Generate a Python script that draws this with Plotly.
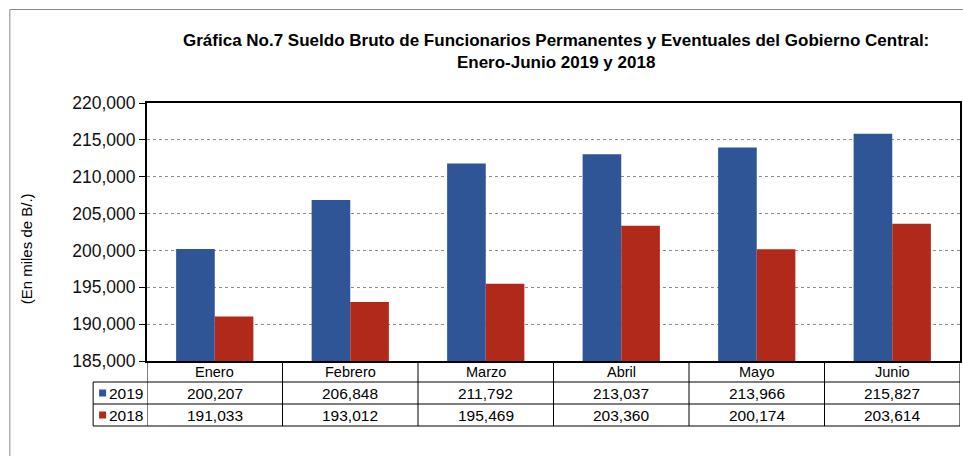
import plotly.graph_objects as go

months = ["Enero", "Febrero", "Marzo", "Abril", "Mayo", "Junio"]
y2019 = [200207, 206848, 211792, 213037, 213966, 215827]
y2018 = [191033, 193012, 195469, 203360, 200174, 203614]
series_names = ["2019", "2018"]
colors = ["#2F5597", "#B0291A"]
y_ticks = [185000, 190000, 195000, 200000, 205000, 210000, 215000, 220000]
title_lines = ["Gráfica No.7 Sueldo Bruto de Funcionarios Permanentes y Eventuales del Gobierno Central:",
               "Enero-Junio 2019 y 2018"]

W, H = 963, 456
L, R, T, B = 147, 962, 103, 361  # plot area in pixels
FONT = "Liberation Sans, Arial, sans-serif"

def px(x):
    return (x - L) / (R - L)

def py(y):
    return (B - y) / (B - T)

xs = list(range(len(months)))
fig = go.Figure()
fig.add_trace(go.Bar(x=xs, y=y2019, name=series_names[0], marker_color=colors[0],
                     marker_line_width=0))
fig.add_trace(go.Bar(x=xs, y=y2018, name=series_names[1], marker_color=colors[1],
                     marker_line_width=0))

shapes = []
line = dict(color="black", width=1)
for yy in [382, 404, 426]:
    shapes.append(dict(type="line", xref="paper", yref="paper", x0=px(93), x1=1,
                       y0=py(yy), y1=py(yy), line=line))
for i in range(len(months) + 1):
    shapes.append(dict(type="line", xref="x", yref="paper", x0=i - 0.5, x1=i - 0.5,
                       y0=py(361), y1=py(426), line=line))
shapes.append(dict(type="line", xref="paper", yref="paper", x0=px(93), x1=px(93),
                   y0=py(382), y1=py(426), line=line))
for k, yc in enumerate([393, 415]):
    shapes.append(dict(type="rect", xref="paper", yref="paper",
                       x0=px(99), x1=px(106), y0=py(yc - 3.5), y1=py(yc + 3.5),
                       fillcolor=colors[k], line=dict(width=0)))
shapes.append(dict(type="line", xref="paper", yref="paper", x0=px(9.5), x1=px(9.5),
                   y0=py(9.5), y1=py(470), line=dict(color="#888888", width=1)))
shapes.append(dict(type="line", xref="paper", yref="paper", x0=px(9.5), x1=px(975),
                   y0=py(9.5), y1=py(9.5), line=dict(color="#888888", width=1)))

ann = []
mf = dict(family=FONT, size=14.5, color="black")
nf = dict(family=FONT, size=15.5, color="black")
for i, m in enumerate(months):
    ann.append(dict(x=i, xref="x", y=py(372), yref="paper", text=m, showarrow=False,
                    font=mf, xanchor="center", yanchor="middle"))
    ann.append(dict(x=i, xref="x", y=py(393), yref="paper", text=f"{y2019[i]:,}",
                    showarrow=False, font=nf, xanchor="center", yanchor="middle"))
    ann.append(dict(x=i, xref="x", y=py(415), yref="paper", text=f"{y2018[i]:,}",
                    showarrow=False, font=nf, xanchor="center", yanchor="middle"))
for k, yc in enumerate([393, 415]):
    ann.append(dict(x=px(107), xref="paper", y=py(yc), yref="paper", text=series_names[k],
                    showarrow=False, font=nf, xanchor="left", yanchor="middle"))
ann.append(dict(x=px(26), xref="paper", y=py(249), yref="paper", text="(En miles de B/.)",
                showarrow=False, textangle=-90, font=dict(family=FONT, size=15, color="black"),
                xanchor="center", yanchor="middle"))
ann.append(dict(x=px(557), xref="paper", y=py(51), yref="paper",
                text="<br>".join(f"<b>{t}</b>" for t in title_lines),
                showarrow=False, font=dict(family=FONT, size=17, color="black"),
                xanchor="center", yanchor="middle", align="center"))

fig.update_layout(
    width=W, height=H,
    margin=dict(l=L, r=W - R, t=T, b=H - B, pad=0),
    paper_bgcolor="white", plot_bgcolor="white",
    barmode="group", bargap=0.43, bargroupgap=0,
    showlegend=False,
    font=dict(family=FONT, color="black"),
    shapes=shapes, annotations=ann,
    xaxis=dict(range=[-0.5, 5.5], showticklabels=False, showgrid=False, zeroline=False,
               showline=True, linecolor="black", linewidth=2, mirror=True, ticks=""),
    yaxis=dict(range=[185000, 220000], tickvals=y_ticks, tickformat=",",
               showgrid=True, gridcolor="#8c8c8c", griddash="dot", gridwidth=1,
               zeroline=False, showline=True, linecolor="black", linewidth=2, mirror=True,
               ticks="outside", ticklen=6, tickcolor="black", tickwidth=1,
               tickfont=dict(family=FONT, size=17.5, color="#111111")),
)

fig.write_html("out.html", config={"displayModeBar": False},
               post_script="document.body.style.margin='0';")
